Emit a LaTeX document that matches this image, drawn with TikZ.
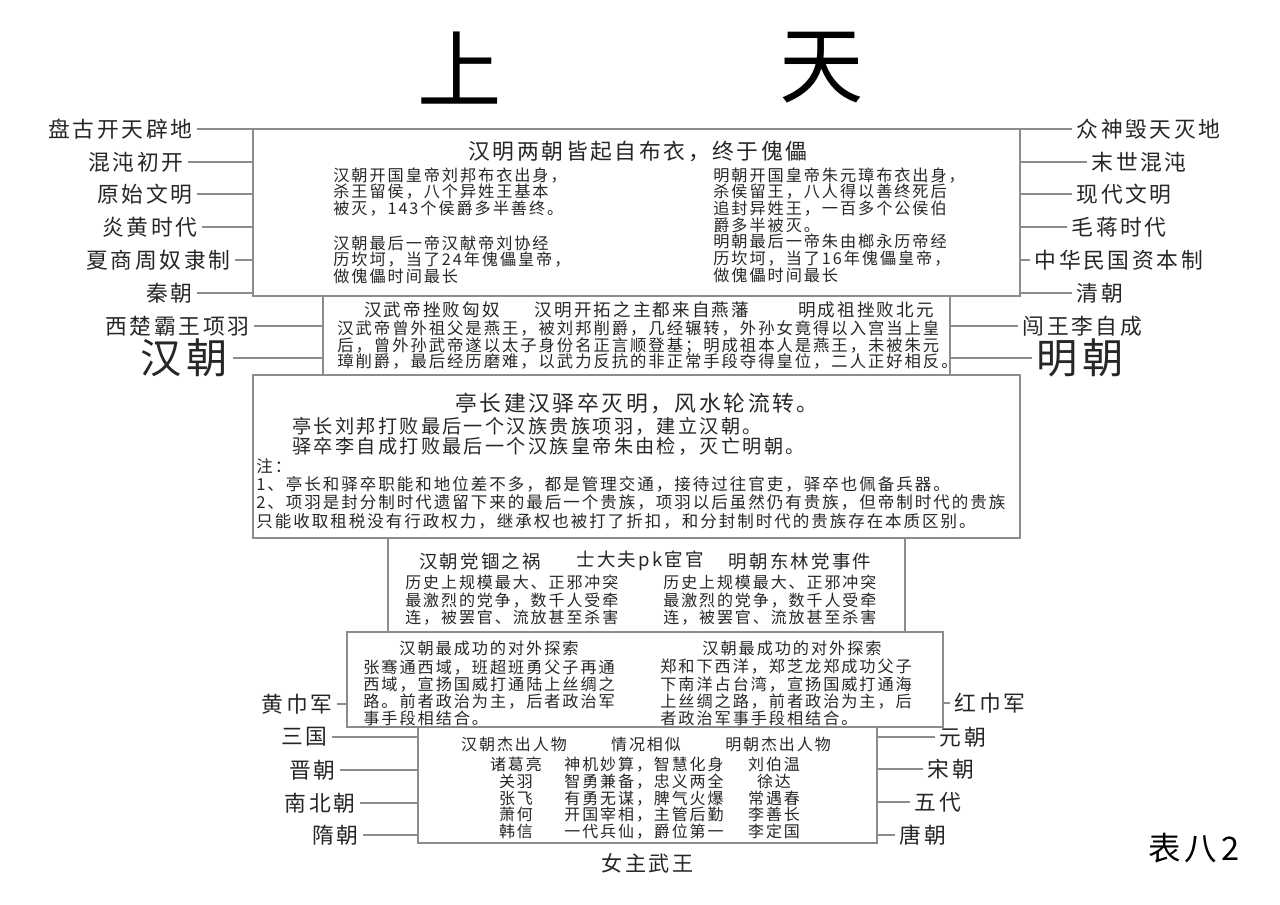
\documentclass[tikz,border=0pt]{standalone}
\usepackage{fontspec}
\usepackage{tikz}
\usetikzlibrary{positioning}
\newfontfamily\cjk[LetterSpace=12]{Noto Sans CJK SC}
\newfontfamily\cjkplain{Noto Sans CJK SC}

\begin{document}
\begin{tikzpicture}[x=0.02cm, y=-0.02cm,
  panel/.style={draw=black!45, line width=0.7pt, inner sep=0pt, outer sep=0pt},
  wire/.style={draw=black!45, line width=0.6pt},
  era/.style={font=\cjk\fontsize{12.4}{14}\selectfont, text=black!85, inner sep=2.5pt},
  bigera/.style={font=\cjk\fontsize{23.5}{26}\selectfont, text=black!85, inner sep=2.5pt},
  head/.style={font=\cjk\fontsize{10}{11}\selectfont, text=black!85, inner sep=0pt},
  para/.style={font=\cjk\fontsize{9.2}{9.6}\selectfont, text=black!85, inner sep=0pt, align=left, anchor=north west}]
  \useasboundingbox (0,0) rectangle (1280,905);

  \node (shang) [font=\cjkplain\fontsize{48}{50}\selectfont] at (460,68) {上};
  \node (tian) [font=\cjkplain\fontsize{48}{50}\selectfont] at (822,68) {天};

  % boxes
  \node (origin) [panel, minimum width=15.34cm, minimum height=3.34cm] at (636.5,212.5) {};
  \node (yan) [panel, minimum width=12.54cm, minimum height=1.58cm] at (636.5,335.5) {};
  \node (fengshui) [panel, minimum width=15.34cm, minimum height=3.26cm] at (636.5,456.5) {};
  \node (dangzheng) [panel, minimum width=10.34cm, minimum height=1.88cm] at (646.5,585) {};
  \node (explore) [panel, minimum width=11.92cm, minimum height=1.9cm] at (645,679.5) {};
  \node (heroes) [panel, minimum width=9.18cm, minimum height=2.32cm] at (647.5,785) {};

  \node (originhead) [era, inner sep=0pt] at (638,151) {汉明两朝皆起自布衣，终于傀儡};
  \node (hanfound) [para, font=\cjk\fontsize{9.2}{9.5}\selectfont] at (333,167) {汉朝开国皇帝刘邦布衣出身，\\杀王留侯，八个异姓王基本\\被灭，143个侯爵多半善终。};
  \node (hanlast) [para, font=\cjk\fontsize{9.2}{9.5}\selectfont] at (333,235) {汉朝最后一帝汉献帝刘协经\\历坎坷，当了24年傀儡皇帝，\\做傀儡时间最长};
  \node (mingfound) [para, font=\cjk\fontsize{9.2}{9.5}\selectfont] at (713,167) {明朝开国皇帝朱元璋布衣出身，\\杀侯留王，八人得以善终死后\\追封异姓王，一百多个公侯伯\\爵多半被灭。\\明朝最后一帝朱由榔永历帝经\\历坎坷，当了16年傀儡皇帝，\\做傀儡时间最长};

  \node (yanhan) [head] at (432,310) {汉武帝挫败匈奴};
  \node (yanmid) [head] at (642,310) {汉明开拓之主都来自燕藩};
  \node (yanming) [head] at (866,310) {明成祖挫败北元};
  \node (yantext) [para, font=\cjk\fontsize{9.3}{9.6}\selectfont] at (337,320) {汉武帝曾外祖父是燕王，被刘邦削爵，几经辗转，外孙女竟得以入宫当上皇\\后，曾外孙武帝遂以太子身份名正言顺登基；明成祖本人是燕王，未被朱元\\璋削爵，最后经历磨难，以武力反抗的非正常手段夺得皇位，二人正好相反。};

  \node (fshead) [era, inner sep=0pt] at (637,403) {亭长建汉驿卒灭明，风水轮流转。};
  \node (fstext) [para, font=\cjk\fontsize{10.9}{11.3}\selectfont] at (292,417) {亭长刘邦打败最后一个汉族贵族项羽，建立汉朝。\\驿卒李自成打败最后一个汉族皇帝朱由检，灭亡明朝。};
  \node (fsnote) [para, font=\cjk\fontsize{9.4}{10.4}\selectfont] at (256,458) {注：\\1、亭长和驿卒职能和地位差不多，都是管理交通，接待过往官吏，驿卒也佩备兵器。\\2、项羽是封分制时代遗留下来的最后一个贵族，项羽以后虽然仍有贵族，但帝制时代的贵族\\只能收取租税没有行政权力，继承权也被打了折扣，和分封制时代的贵族存在本质区别。};

  \node (dzhan) [head, font=\cjk\fontsize{10.5}{11}\selectfont] at (480,561) {汉朝党锢之祸};
  \node (dzmid) [head, font=\cjk\fontsize{10.5}{11}\selectfont] at (640,561) {士大夫pk宦官};
  \node (dzming) [head, font=\cjk\fontsize{10.5}{11}\selectfont] at (800,561) {明朝东林党事件};
  \node (dzhantext) [para, font=\cjk\fontsize{9.1}{9.9}\selectfont] at (405,575) {历史上规模最大、正邪冲突\\最激烈的党争，数千人受牵\\连，被罢官、流放甚至杀害};
  \node (dzmingtext) [para, font=\cjk\fontsize{9.1}{9.9}\selectfont] at (663,575) {历史上规模最大、正邪冲突\\最激烈的党争，数千人受牵\\连，被罢官、流放甚至杀害};

  \node (exhan) [head, font=\cjk\fontsize{9.2}{10}\selectfont] at (489,648) {汉朝最成功的对外探索};
  \node (exming) [head, font=\cjk\fontsize{9.2}{10}\selectfont] at (792,648) {汉朝最成功的对外探索};
  \node (exhantext) [para, font=\cjk\fontsize{9.2}{9.8}\selectfont] at (363,659) {张骞通西域，班超班勇父子再通\\西域，宣扬国威打通陆上丝绸之\\路。前者政治为主，后者政治军\\事手段相结合。};
  \node (exmingtext) [para, font=\cjk\fontsize{9.2}{9.8}\selectfont] at (660,659) {郑和下西洋，郑芝龙郑成功父子\\下南洋占台湾，宣扬国威打通海\\上丝绸之路，前者政治为主，后\\者政治军事手段相结合。};

  \node (hrhan) [head, font=\cjk\fontsize{9.1}{10}\selectfont] at (514,744) {汉朝杰出人物};
  \node (hrmid) [head, font=\cjk\fontsize{9.1}{10}\selectfont] at (646,744) {情况相似};
  \node (hrming) [head, font=\cjk\fontsize{9.1}{10}\selectfont] at (778,744) {明朝杰出人物};
  \node (hrhannames) [para, align=center, anchor=north, font=\cjk\fontsize{9.1}{9.5}\selectfont] at (516,757) {诸葛亮\\关羽\\张飞\\萧何\\韩信};
  \node (hrmidtext) [para, align=center, anchor=north, font=\cjk\fontsize{9.1}{9.5}\selectfont] at (644,757) {神机妙算，智慧化身\\智勇兼备，忠义两全\\有勇无谋，脾气火爆\\开国宰相，主管后勤\\一代兵仙，爵位第一};
  \node (hrmingnames) [para, align=center, anchor=north, font=\cjk\fontsize{9.1}{9.5}\selectfont] at (774,757) {刘伯温\\徐达\\常遇春\\李善长\\李定国};
  \node (nvzhu) [era, below=1.2mm of heroes, font=\cjk\fontsize{12}{13}\selectfont] {女主武王};

  % left side
  \node (pangu) [era, anchor=east] at (197,129) {盘古开天辟地};
  \node (hundun) [era, anchor=east] at (188,162) {混沌初开};
  \node (yuanshi) [era, anchor=east] at (197,194) {原始文明};
  \node (yanhuang) [era, anchor=east] at (202,227) {炎黄时代};
  \node (xiashang) [era, anchor=east] at (235,260) {夏商周奴隶制};
  \node (qin) [era, anchor=east] at (197,293) {秦朝};
  \node (xichu) [era, anchor=east] at (254,326) {西楚霸王项羽};
  \node (han) [bigera, anchor=east] at (233,358) {汉朝};
  \node (huangjin) [era, anchor=east] at (337,704) {黄巾军};
  \node (sanguo) [era, anchor=east] at (332,737) {三国};
  \node (jin) [era, anchor=east] at (340,770) {晋朝};
  \node (nanbei) [era, anchor=east] at (360,803) {南北朝};
  \node (sui) [era, anchor=east] at (363,835) {隋朝};

  \draw [wire] (pangu.east) -- (pangu.east -| origin.west);
  \draw [wire] (hundun.east) -- (hundun.east -| origin.west);
  \draw [wire] (yuanshi.east) -- (yuanshi.east -| origin.west);
  \draw [wire] (yanhuang.east) -- (yanhuang.east -| origin.west);
  \draw [wire] (xiashang.east) -- (xiashang.east -| origin.west);
  \draw [wire] (qin.east) -- (qin.east -| origin.west);
  \draw [wire] (xichu.east) -- (xichu.east -| yan.west);
  \draw [wire] (han.east) -- (han.east -| yan.west);
  \draw [wire] (huangjin.east) -- (huangjin.east -| explore.west);
  \draw [wire] (sanguo.east) -- (sanguo.east -| heroes.west);
  \draw [wire] (jin.east) -- (jin.east -| heroes.west);
  \draw [wire] (nanbei.east) -- (nanbei.east -| heroes.west);
  \draw [wire] (sui.east) -- (sui.east -| heroes.west);

  % right side
  \node (zhongshen) [era, anchor=west] at (1072,129) {众神毁天灭地};
  \node (moshi) [era, anchor=west] at (1087,162) {末世混沌};
  \node (xiandai) [era, anchor=west] at (1072,194) {现代文明};
  \node (maojiang) [era, anchor=west] at (1067,227) {毛蒋时代};
  \node (minguo) [era, anchor=west] at (1030,260) {中华民国资本制};
  \node (qing) [era, anchor=west] at (1072,293) {清朝};
  \node (chuangwang) [era, anchor=west] at (1018,326) {闯王李自成};
  \node (ming) [bigera, anchor=west] at (1032,358) {明朝};
  \node (hongjin) [era, anchor=west] at (950,703) {红巾军};
  \node (yuan) [era, anchor=west] at (935,737) {元朝};
  \node (song) [era, anchor=west] at (923,769) {宋朝};
  \node (wudai) [era, anchor=west] at (910,802) {五代};
  \node (tang) [era, anchor=west] at (895,835) {唐朝};

  \draw [wire] (zhongshen.west) -- (zhongshen.west -| origin.east);
  \draw [wire] (moshi.west) -- (moshi.west -| origin.east);
  \draw [wire] (xiandai.west) -- (xiandai.west -| origin.east);
  \draw [wire] (maojiang.west) -- (maojiang.west -| origin.east);
  \draw [wire] (minguo.west) -- (minguo.west -| origin.east);
  \draw [wire] (qing.west) -- (qing.west -| origin.east);
  \draw [wire] (chuangwang.west) -- (chuangwang.west -| yan.east);
  \draw [wire] (ming.west) -- (ming.west -| yan.east);
  \draw [wire] (hongjin.west) -- (hongjin.west -| explore.east);
  \draw [wire] (yuan.west) -- (yuan.west -| heroes.east);
  \draw [wire] (song.west) -- (song.west -| heroes.east);
  \draw [wire] (wudai.west) -- (wudai.west -| heroes.east);
  \draw [wire] (tang.west) -- (tang.west -| heroes.east);

  \node (biao) [font=\cjk\fontsize{18.5}{20}\selectfont] at (1194,848) {表八2};
\end{tikzpicture}
\end{document}
